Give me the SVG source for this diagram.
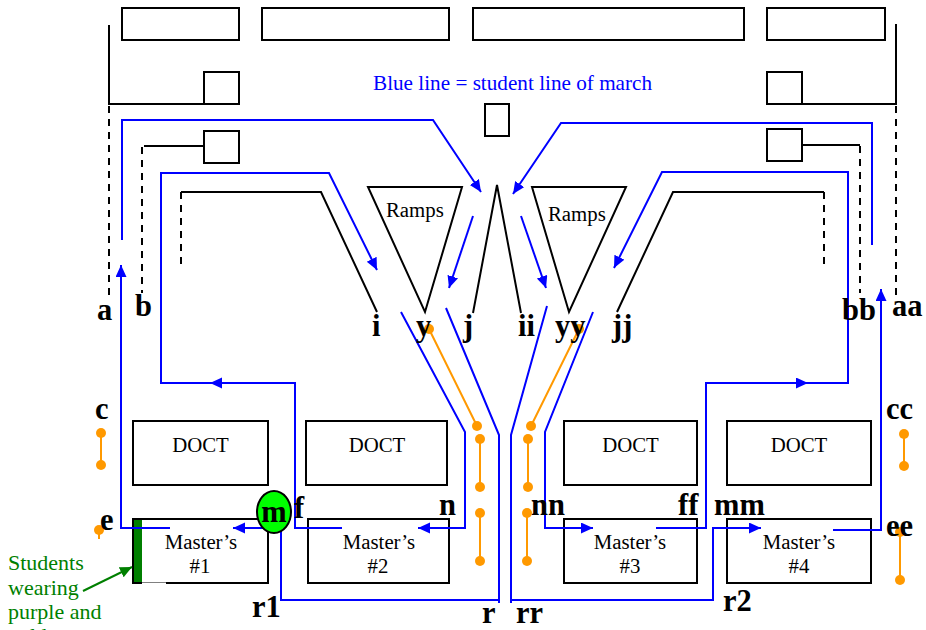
<svg xmlns="http://www.w3.org/2000/svg" width="926" height="630" viewBox="0 0 926 630">
<style>
text{font-family:"Liberation Serif","Times New Roman",serif;font-size:20.8px;fill:#000}
.l{font-weight:bold;font-size:30.5px}
.c{text-anchor:middle}
.b{fill:none;stroke:#0000ff;stroke-width:2}
.k{fill:none;stroke:#000;stroke-width:2}
.d{stroke-dasharray:7 6}
.box{fill:#fff;stroke:#000;stroke-width:2}
.o{stroke:#ff9900;stroke-width:2;fill:none}
.dot{fill:#ff9900}
.a{marker-end:url(#ah)}
.g{fill:#007f00;font-size:22px}
</style>
<defs>
<marker id="ah" markerUnits="userSpaceOnUse" markerWidth="14" markerHeight="12" refX="12" refY="5.5" orient="auto"><path d="M0 0L12 5.5L0 11z" fill="#0000ff"/></marker>
<marker id="ag" markerUnits="userSpaceOnUse" markerWidth="14" markerHeight="12" refX="12" refY="5.5" orient="auto"><path d="M0 0L12 5.5L0 11z" fill="#007f00"/></marker>
</defs>
<rect width="926" height="630" fill="#fff"/>
<g id="top-1"><rect class="box" x="122" y="8" width="117" height="32"/></g>
<g id="top-2"><rect class="box" x="262" y="8" width="187" height="32"/></g>
<g id="top-3"><rect class="box" x="473" y="8" width="271" height="32"/></g>
<g id="top-4"><rect class="box" x="767" y="8" width="118" height="32"/></g>
<g id="sq-1"><rect class="box" x="204" y="72" width="35" height="32"/></g>
<g id="sq-2"><rect class="box" x="204" y="131" width="35" height="32"/></g>
<g id="sq-3"><rect class="box" x="767" y="72" width="35" height="32"/></g>
<g id="sq-4"><rect class="box" x="767" y="129" width="35" height="32"/></g>
<g id="centre"><rect class="box" x="485" y="104" width="24" height="32"/></g>
<g id="ramp-l"><path class="box" d="M368 187H462L425 312z"/><text x="386" y="217">Ramps</text></g>
<g id="ramp-r"><path class="box" d="M532 187H626L569 312z"/><text x="548" y="221">Ramps</text></g>
<g id="doct-1"><rect class="box" x="133" y="421" width="135" height="64"/><text class="c" x="200.500" y="452">DOCT</text></g>
<g id="doct-2"><rect class="box" x="306" y="421" width="141" height="64"/><text class="c" x="377" y="452">DOCT</text></g>
<g id="doct-3"><rect class="box" x="564" y="421" width="133" height="64"/><text class="c" x="630.500" y="452">DOCT</text></g>
<g id="doct-4"><rect class="box" x="727" y="421" width="144" height="64"/><text class="c" x="799" y="452">DOCT</text></g>
<g id="master-1"><rect class="box" x="133" y="519" width="135" height="64"/><rect x="142" y="582.500" width="24" height="1.500" fill="#fff"/><rect x="134" y="520" width="8" height="62" fill="#007f00"/><text class="c" x="201" y="549">Master’s</text><text class="c" x="200" y="573">#1</text></g>
<g id="master-2"><rect class="box" x="308" y="519" width="141" height="64"/><text class="c" x="379" y="549">Master’s</text><text class="c" x="378" y="573">#2</text></g>
<g id="master-3"><rect class="box" x="564" y="519" width="133" height="64"/><text class="c" x="630" y="549">Master’s</text><text class="c" x="630" y="573">#3</text></g>
<g id="master-4"><rect class="box" x="727" y="519" width="144" height="64"/><text class="c" x="799" y="549">Master’s</text><text class="c" x="799" y="573">#4</text></g>
<g id="connectors">
<path class="k" d="M109 25V104H204"/><path class="k d" d="M109 106V295"/>
<path class="k" d="M896 24V104H802"/><path class="k d" d="M896 106V295"/>
<path class="k" d="M144 146H204"/><path class="k d" d="M142 147V293"/>
<path class="k" d="M802 145H860"/><path class="k d" d="M860 146V293"/>
<path class="k" d="M181 192H321L377 312"/><path class="k d" d="M181 192V265"/>
<path class="k" d="M824 192H673L617 312"/><path class="k d" d="M824 192V265"/>
<path class="k" d="M473 313L497 185L521 313"/>
<path class="b a" d="M122 240V120H433L481 192"/>
<path class="b a" d="M872 245V123H561L513 194"/>
<path class="b a" d="M473 216L449 288"/>
<path class="b a" d="M521 216L546 288"/>
<path class="b a" d="M342 528H295V383H210"/>
<path class="b a" d="M295 383H161V173H329L377 270"/>
<path class="b a" d="M656 528H706V383H808"/>
<path class="b a" d="M808 383H848V172H662L614 268"/>
<path class="b a" d="M170 528H121V265"/>
<path class="b a" d="M833 530H881V289"/>
<path class="b a" d="M272 528H233"/>
<path class="b a" d="M401 312L465 432V528H418"/>
<path class="b" d="M446 308L499 435V603M499 600H281V528"/>
<path class="b" d="M547 306L511 435V603M511 600H713V528H730"/>
<path class="b a" d="M713 528H761"/>
<path class="b a" d="M593 312L545 432V528H593"/>
<g>
<path class="o" d="M429 329L477 426M480 439V487M480 513V561M579 329L531 426M528 439V487M527 513L527 561M101 433V465M904 434V466M900 532V580M99 530V539"/>
<g class="dot"><circle cx="429" cy="329" r="5"/><circle cx="477" cy="426" r="5"/><circle cx="480" cy="439" r="5"/><circle cx="480" cy="487" r="5"/><circle cx="480" cy="513" r="5"/><circle cx="480" cy="561" r="5"/><circle cx="579" cy="329" r="5"/><circle cx="531" cy="426" r="5"/><circle cx="528" cy="439" r="5"/><circle cx="528" cy="487" r="5"/><circle cx="527" cy="513" r="5"/><circle cx="527" cy="561" r="5"/><circle cx="101" cy="433" r="5"/><circle cx="101" cy="465" r="5"/><circle cx="904" cy="434" r="5"/><circle cx="904" cy="466" r="5"/><circle cx="900" cy="532" r="5"/><circle cx="900" cy="580" r="5"/><circle cx="99" cy="530" r="5"/></g>
</g>
<path d="M83 591L132 567" fill="none" stroke="#007f00" stroke-width="2" marker-end="url(#ag)"/>
</g>
<g id="m"><ellipse cx="274" cy="512" rx="17" ry="21" fill="#00ff00" stroke="#000" stroke-width="2"/><text class="l c" x="274" y="522">m</text></g>
<g id="title"><text x="373" y="90" style="fill:#0000ff;font-size:21.200px">Blue line = student line of march</text></g>
<g id="students"><text class="g" x="8" y="570">Students</text><text class="g" x="8" y="595">wearing</text><text class="g" x="8" y="619">purple and</text><text class="g" x="8" y="643">gold</text></g>
<g id="labels">
<text class="l" x="97" y="320">a</text><text class="l" x="135" y="316">b</text><text class="l" x="372" y="336">i</text><text class="l" x="416" y="336">y</text><text class="l" x="463" y="336">j</text><text class="l" x="518" y="336">ii</text><text class="l" x="555" y="336">yy</text><text class="l" x="612" y="336">jj</text><text class="l" x="842" y="320">bb</text><text class="l" x="892" y="316">aa</text>
<text class="l" x="95" y="419">c</text><text class="l" x="886" y="419">cc</text><text class="l" x="100" y="530">e</text><text class="l" x="294" y="518">f</text><text class="l" x="439" y="515">n</text><text class="l" x="531" y="515">nn</text><text class="l" x="678" y="515">ff</text><text class="l" x="714" y="515">mm</text><text class="l" x="886" y="536">ee</text>
<text class="l" x="252" y="617">r1</text><text class="l" x="482" y="623">r</text><text class="l" x="516" y="623">rr</text><text class="l" x="723" y="611">r2</text>
</g>
</svg>
